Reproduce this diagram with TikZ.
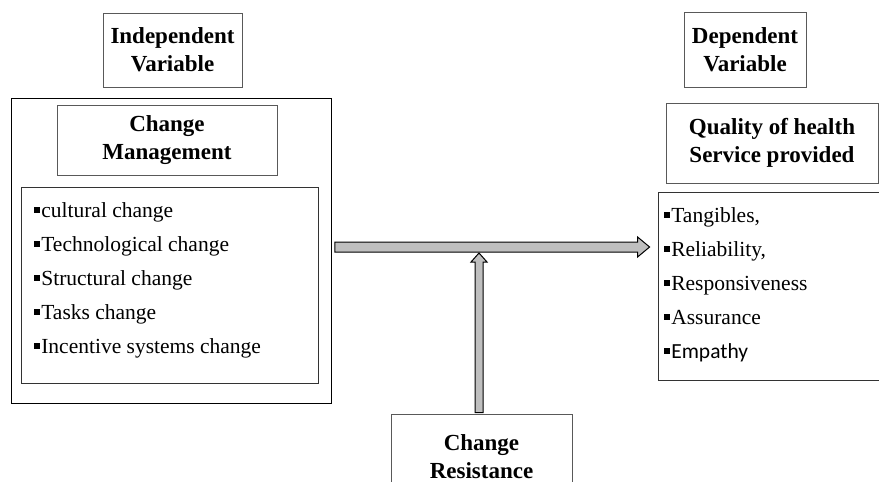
\documentclass[tikz,border=0pt]{standalone}
\usepackage{fontspec}
\setmainfont{Liberation Serif}
\newfontfamily\calibri{Carlito}
\usetikzlibrary{positioning,calc}
\newcommand{\sqbul}{\rule[0.45ex]{0.28em}{0.28em}\hspace{1.5pt}}
\tikzset{
  % header boxes hold the bold titles
  head/.style={draw=black!65, line width=0.8pt, align=center, inner sep=0pt,
    font=\fontsize{23}{28}\selectfont\bfseries},
  frame/.style={draw=black!80, line width=0.8pt, inner sep=0pt},
  items/.style={align=left, inner sep=0pt, anchor=north west,
    font=\fontsize{21.5}{34}\selectfont},
  fat/.style={draw=black, line width=1pt, fill=black!25, line join=miter}}

\begin{document}
\begin{tikzpicture}[x=1pt, y=-1pt]
\useasboundingbox (0,0) rectangle (879,482);

\node (ivar) [head, minimum width=139, minimum height=74] at (172.5,50)
{Independent\\Variable};

\node (dvar) [head, minimum width=122, minimum height=75] at (745,49.5)
{Dependent\\Variable};

\node (outer) [frame, draw=black, minimum width=320, minimum height=305] at (171.5,250.5) {};

\node (cm) [head, minimum width=220, minimum height=70] at (167,140)
{Change\\Management};

\node (clist) [frame, minimum width=297, minimum height=196] at (169.5,285) {};
\node (clistt) [items] at ($(clist.north west)+(13,16)$)
{\sqbul cultural change\\ \sqbul Technological change\\ \sqbul Structural change\\
 \sqbul Tasks change\\ \sqbul Incentive systems change};

\node (qual) [head, minimum width=212, minimum height=80] at (772,143)
{Quality of health\\Service provided};

\node (qlist) [frame, minimum width=242, minimum height=188] at (779,286) {};
\node (qlistt) [items] at ($(qlist.north west)+(6,16)$)
{\sqbul Tangibles,\\ \sqbul Reliability,\\ \sqbul Responsiveness\\
 \sqbul Assurance\\ {\calibri\sqbul Empathy}};

\node (res) [head, minimum width=181, minimum height=86] at (481.5,457)
{Change\\Resistance};

% main arrow: change management -> service quality
\coordinate (hs) at ($(outer.east)+(3,-3.5)$);
\coordinate (he) at (qlist.west |- hs);
\coordinate (he) at ($(he)+(-8,0)$);
\draw [fat] ($(hs)+(0,-5)$) -- ($(he)+(-12,-5)$) -- ($(he)+(-12,-10)$) -- (he)
  -- ($(he)+(-12,10)$) -- ($(he)+(-12,5)$) -- ($(hs)+(0,5)$) -- cycle;

% resistance arrow pushes up into the main arrow
\coordinate (vs) at ($(res.north)+(-2.5,-1)$);
\coordinate (ve) at ($(vs |- hs)+(0,6)$);
\draw [fat] ($(vs)+(-4,0)$) -- ($(ve)+(-4,9)$) -- ($(ve)+(-8,9)$) -- (ve)
  -- ($(ve)+(8,9)$) -- ($(ve)+(4,9)$) -- ($(vs)+(4,0)$) -- cycle;

\end{tikzpicture}
\end{document}
